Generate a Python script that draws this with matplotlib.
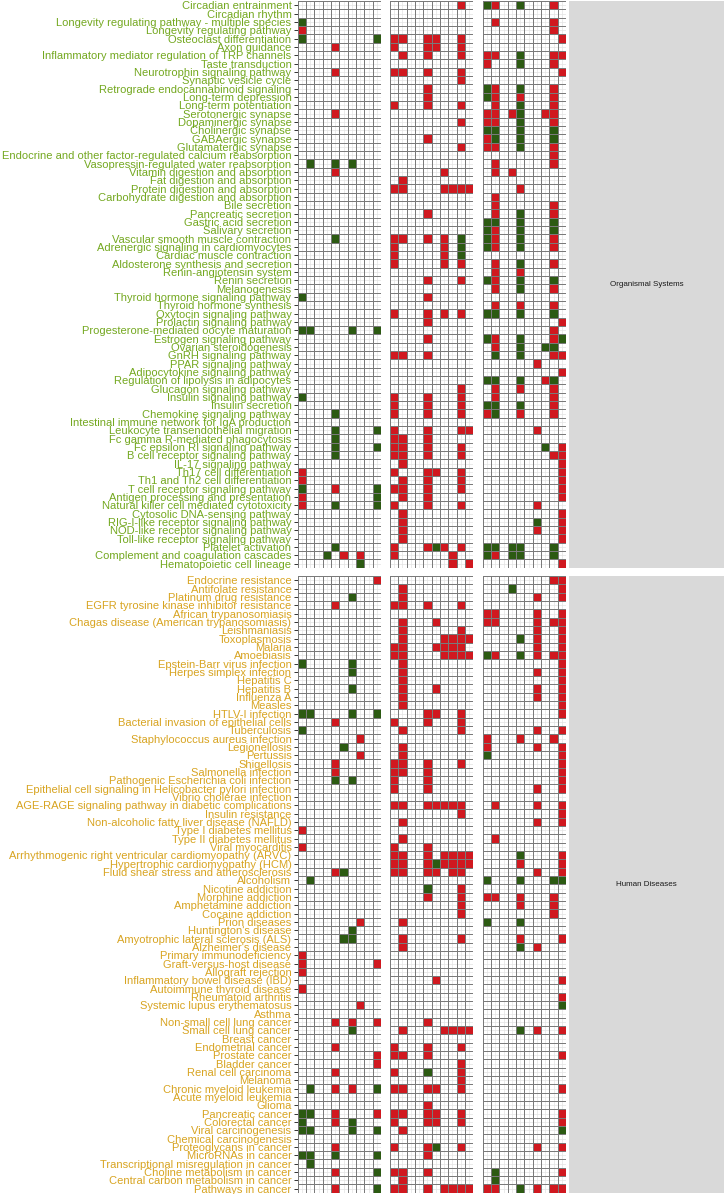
import numpy as np
import matplotlib
matplotlib.use("Agg")
import matplotlib.pyplot as plt
from matplotlib.colors import ListedColormap

plt.rcParams['font.family'] = ['Liberation Sans', 'DejaVu Sans']

# ---------------- data ----------------
org_labels = [
    "Circadian entrainment", "Circadian rhythm",
    "Longevity regulating pathway - multiple species", "Longevity regulating pathway",
    "Osteoclast differentiation", "Axon guidance",
    "Inflammatory mediator regulation of TRP channels", "Taste transduction",
    "Neurotrophin signaling pathway", "Synaptic vesicle cycle",
    "Retrograde endocannabinoid signaling", "Long-term depression",
    "Long-term potentiation", "Serotonergic synapse", "Dopaminergic synapse",
    "Cholinergic synapse", "GABAergic synapse", "Glutamatergic synapse",
    "Endocrine and other factor-regulated calcium reabsorption",
    "Vasopressin-regulated water reabsorption", "Vitamin digestion and absorption",
    "Fat digestion and absorption", "Protein digestion and absorption",
    "Carbohydrate digestion and absorption", "Bile secretion", "Pancreatic secretion",
    "Gastric acid secretion", "Salivary secretion", "Vascular smooth muscle contraction",
    "Adrenergic signaling in cardiomyocytes", "Cardiac muscle contraction",
    "Aldosterone synthesis and secretion", "Renin-angiotensin system", "Renin secretion",
    "Melanogenesis", "Thyroid hormone signaling pathway", "Thyroid hormone synthesis",
    "Oxytocin signaling pathway", "Prolactin signaling pathway",
    "Progesterone-mediated oocyte maturation", "Estrogen signaling pathway",
    "Ovarian steroidogenesis", "GnRH signaling pathway", "PPAR signaling pathway",
    "Adipocytokine signaling pathway", "Regulation of lipolysis in adipocytes",
    "Glucagon signaling pathway", "Insulin signaling pathway", "Insulin secretion",
    "Chemokine signaling pathway", "Intestinal immune network for IgA production",
    "Leukocyte transendothelial migration", "Fc gamma R-mediated phagocytosis",
    "Fc epsilon RI signaling pathway", "B cell receptor signaling pathway",
    "IL-17 signaling pathway", "Th17 cell differentiation",
    "Th1 and Th2 cell differentiation", "T cell receptor signaling pathway",
    "Antigen processing and presentation", "Natural killer cell mediated cytotoxicity",
    "Cytosolic DNA-sensing pathway", "RIG-I-like receptor signaling pathway",
    "NOD-like receptor signaling pathway", "Toll-like receptor signaling pathway",
    "Platelet activation", "Complement and coagulation cascades",
    "Hematopoietic cell lineage",
]

# R = red, G = green, . = empty ; 10 columns per panel
org_p1 = [
    "..........", "..........", "G.........", "R.........", "G........G",
    "....R.....", "..........", "..........", "....R.....", "..........",
    "..........", "..........", "..........", "....R.....", "..........",
    "..........", "..........", "..........", "..........", ".G..G.G...",
    "....R.....", "..........", "..........", "..........", "..........",
    "..........", "..........", "..........", "....G.....", "..........",
    "..........", "..........", "..........", "..........", "..........",
    "G.........", "..........", "..........", "..........", "GG....G..G",
    "..........", "..........", "..........", "..........", "..........",
    "..........", "..........", "G.........", "..........", "....G.....",
    "..........", "....G....G", "....G.....", "....G....G", "....G.....",
    "..........", "R.........", "R.........", "G...R....G", "R........G",
    "R...G....G", "..........", "..........", "..........", "..........",
    "....G.....", "...G.R.R..", ".......G..",
]
org_p2 = [
    "........R.", "..........", "..........", "..........", "RR..RR..R.",
    "R...RR..R.", ".R..R...R.", "..........", "RR..R...R.", "........R.",
    "....R.....", "....R.....", "R...R...R.", "..........", "........R.",
    "..........", "....R.....", "........R.", "..........", "..........",
    "......R...", ".R........", "RR....RRRR", "..........", "..........",
    "....R.....", "..........", "..........", "RR..R.R.G.", "R.....R.G.",
    "R.....R.G.", "R.....R.R.", "..........", "....R...R.", "..........",
    "....R.....", "..........", "R...R.R.R.", "....R.....", "..........",
    "....R.....", "..........", "RR..R.....", "..........", "..........",
    "..........", "........R.", "R...R...R.", "R...R...R.", "R...R...R.",
    "..........", "R...R...RR", "RR..R.....", "RR..R...R.", "RR..R...R.",
    ".R........", "R...RR..R.", ".R..R...R.", "RR..R...R.", ".R..R.....",
    "R...R...R.", ".R........", ".R........", ".R........", ".R........",
    "R...RGR.R.", "R......R..", ".......R.R",
]
org_p3 = [
    "GR..G...R.", "..........", ".R......R.", "........R.", ".........R",
    "..........", "RR..G...RR", "R...G...R.", ".........R", "..........",
    "GR..G...R.", "GR..R...R.", ".R..G...R.", "RR.RG..RR.", "RR..G...R.",
    "GG..G...G.", "RG..G...G.", "RR..G...R.", "........R.", ".R......R.",
    ".R.R......", "..........", "....R.....", ".R........", ".R......R.",
    ".R..G...R.", "GG..G...G.", "GR..G...G.", "GR..G...R.", "GR..G...R.",
    "..........", ".R..G...R.", ".R..R.....", "GR..G...G.", ".R..G...R.",
    "..........", ".R..R...R.", "GG..G...G.", ".........R", "........R.",
    "GR..G...RG", ".R..G..GG.", ".G..G...RR", "......R...", ".........R",
    "GG..G..RG.", ".R..R...R.", ".R......R.", "GG..G...R.", "RG..R...R.",
    "..........", "......R...", "..........", ".......G.R", "........RR",
    ".........R", ".........R", ".........R", ".........R", ".........R",
    "......R...", ".........R", "......G..R", "......R..R", ".........R",
    "GG.GG...G.", "GR.GG...G.", ".........R",
]

dis_labels = [
    "Endocrine resistance", "Antifolate resistance", "Platinum drug resistance",
    "EGFR tyrosine kinase inhibitor resistance", "African trypanosomiasis",
    "Chagas disease (American trypanosomiasis)", "Leishmaniasis", "Toxoplasmosis",
    "Malaria", "Amoebiasis", "Epstein-Barr virus infection", "Herpes simplex infection",
    "Hepatitis C", "Hepatitis B", "Influenza A", "Measles", "HTLV-I infection",
    "Bacterial invasion of epithelial cells", "Tuberculosis",
    "Staphylococcus aureus infection", "Legionellosis", "Pertussis", "Shigellosis",
    "Salmonella infection", "Pathogenic Escherichia coli infection",
    "Epithelial cell signaling in Helicobacter pylori infection",
    "Vibrio cholerae infection",
    "AGE-RAGE signaling pathway in diabetic complications", "Insulin resistance",
    "Non-alcoholic fatty liver disease (NAFLD)", "Type I diabetes mellitus",
    "Type II diabetes mellitus", "Viral myocarditis",
    "Arrhythmogenic right ventricular cardiomyopathy (ARVC)",
    "Hypertrophic cardiomyopathy (HCM)", "Fluid shear stress and atherosclerosis",
    "Alcoholism", "Nicotine addiction", "Morphine addiction", "Amphetamine addiction",
    "Cocaine addiction", "Prion diseases", "Huntington's disease",
    "Amyotrophic lateral sclerosis (ALS)", "Alzheimer's disease",
    "Primary immunodeficiency", "Graft-versus-host disease", "Allograft rejection",
    "Inflammatory bowel disease (IBD)", "Autoimmune thyroid disease",
    "Rheumatoid arthritis", "Systemic lupus erythematosus", "Asthma",
    "Non-small cell lung cancer", "Small cell lung cancer", "Breast cancer",
    "Endometrial cancer", "Prostate cancer", "Bladder cancer", "Renal cell carcinoma",
    "Melanoma", "Chronic myeloid leukemia", "Acute myeloid leukemia", "Glioma",
    "Pancreatic cancer", "Colorectal cancer", "Viral carcinogenesis",
    "Chemical carcinogenesis", "Proteoglycans in cancer", "MicroRNAs in cancer",
    "Transcriptional misregulation in cancer", "Choline metabolism in cancer",
    "Central carbon metabolism in cancer", "Pathways in cancer",
]
dis_p1 = [
    ".........R", "..........", "......G...", "....R.....", "..........",
    "..........", "..........", "..........", "..........", "..........",
    "G.....G...", "......G...", "..........", "......G...", "..........",
    "..........", "GG....G..G", "....R.....", "G.........", ".......R..",
    ".....G....", ".......R..", "....R.....", "....R.....", "....G.G...",
    "..........", "..........", "..........", "..........", "..........",
    "R.........", "..........", "R.........", "..........", "..........",
    "....RG....", ".G........", "..........", "..........", "..........",
    "..........", ".......R..", "......G...", ".....GG...", "..........",
    "R.........", "R........R", "R.........", "..........", "R.........",
    "..........", ".......R..", "..........", "....R.R..R", "......G...",
    "..........", "....R.....", ".........R", ".........R", "....R.....",
    "..........", ".G..R.R..G", "..........", "..........", "GG..R....R",
    "G...R.G...", "GG....G..G", "..........", "....R.....", "GG..G....G",
    ".G........", "....R....G", "..........", "....R....G",
]
dis_p2 = [
    "..........", ".R........", ".R........", "RR..R...R.", "..........",
    ".R...R....", ".R......R.", ".R....RRRR", "RR...RRRR.", "RR....RRRR",
    ".R........", ".R........", ".R........", ".R...R....", ".R........",
    ".R........", "....RR..R.", "R...R...R.", ".R......R.", "..........",
    ".R........", ".R........", "RR..R...R.", "RR..R.....", "R...R.....",
    "R...R.....", "..........", "RR..RRRRR.", "........R.", ".R........",
    "..........", ".R........", "R...R.....", "RR..R.RRRR", "RR..RGRRRR",
    "RR..RR.RR.", "..........", "....G...R.", "....R...R.", "........R.",
    "........R.", ".R........", "..........", ".R......R.", ".R........",
    "..........", "..........", "..........", ".....R....", "..........",
    "..........", "..........", "..........", "....R.....", ".R....RRRR",
    "..........", "R...R...R.", "RR..R.....", "........R.", "R...G...R.",
    "........R.", "RR..RR..R.", "..........", "....R.....", "RR..RR..R.",
    "R...RR..R.", ".R........", "..........", "R...RG..R.", "....R.....",
    "..........", "RR..R.....", ".R........", "RR..R.RRRR",
]
dis_p3 = [
    "........RR", "...G.....R", "......R..R", "..........", "RR....R..R",
    "RR....R.RR", "......R..R", "....G.R..R", "......R..R", "GR..G.R.RR",
    ".........R", "......R..R", ".........R", "......R..R", "......R..R",
    ".........R", ".........R", "..........", "......R..R", "R...R...R.",
    "R.....R..R", "G........R", ".........R", ".........R", ".........R",
    "......R..R", "..........", ".R....R..R", ".........R", "......R..R",
    "..........", ".R........", "..........", "....G....R", "....R....R",
    "......R..R", "G...G...GG", "..........", "RR..R...R.", "....R...R.",
    "........R.", "G...G.....", "..........", "....R....R", "....G.R...",
    "..........", "..........", "..........", ".........R", "..........",
    ".........R", ".........G", "..........", "..........", "....G.R..R",
    "..........", "..........", ".........R", "..........", "..........",
    "..........", ".........R", "..........", "..........", ".........R",
    ".........R", ".........G", "..........", "......R..R", "..........",
    "..........", ".G.......R", ".G........", "RR..G.R.RR",
]

facet_names = ["Organismal Systems", "Human Diseases"]

# ---------------- style ----------------
RED = "#D0181F"
GREEN = "#2C5A12"
LAB_COLORS = ["#74A820", "#D8A421"]
code = {".": 0, "R": 1, "G": 2}
cmap = ListedColormap([(1, 1, 1, 0), RED, GREEN])

W, H = 724, 1194
fig = plt.figure(figsize=(W / 100, H / 100), dpi=100)

def fx(px):
    return px / W

def fy(top_px, bot_px):
    return (H - bot_px) / H, (bot_px - top_px) / H

panel_x = [297.7, 390.0, 482.7]
panel_w = 83.3
facets = [
    (org_labels, [org_p1, org_p2, org_p3], 1.0, 567.7),
    (dis_labels, [dis_p1, dis_p2, dis_p3], 576.0, 1192.7),
]

for fi, (labels, panels, top, bot) in enumerate(facets):
    yb, hh = fy(top, bot)
    n = len(labels)
    for pi, rows in enumerate(panels):
        ax = fig.add_axes([fx(panel_x[pi]), yb, fx(panel_w), hh])
        mat = np.array([[code[c] for c in r] for r in rows])
        ax.pcolormesh(np.arange(11), np.arange(n + 1), mat, cmap=cmap,
                      vmin=-0.5, vmax=2.5, edgecolors="#7A7A7A", linewidth=0.6,
                      zorder=2)
        ax.set_xlim(0, 10)
        ax.set_ylim(n, 0)
        ax.set_xticks(np.arange(10) + 0.5)
        ax.set_yticks(np.arange(n) + 0.5)
        ax.grid(True, color="#E3E3E3", linewidth=0.5, zorder=0)
        ax.set_axisbelow(True)
        for s in ax.spines.values():
            s.set_visible(False)
        ax.tick_params(axis="x", length=0, labelbottom=False)
        if pi == 0:
            ax.set_yticklabels(labels, fontsize=8.0)
            ax.tick_params(axis="y", length=3, width=0.7, color="#333333", pad=1.5)
            for t in ax.get_yticklabels():
                t.set_color(LAB_COLORS[fi])
        else:
            ax.tick_params(axis="y", length=0, labelleft=False)
    # strip
    sax = fig.add_axes([fx(569), yb, fx(W - 569), hh])
    sax.set_facecolor("#D9D9D9")
    for s in sax.spines.values():
        s.set_visible(False)
    sax.set_xticks([])
    sax.set_yticks([])
    sax.text(0.5, 0.5, facet_names[fi], transform=sax.transAxes, ha="center",
             va="center", fontsize=5.8, color="#1A1A1A")

fig.savefig("out.png", dpi=100)
